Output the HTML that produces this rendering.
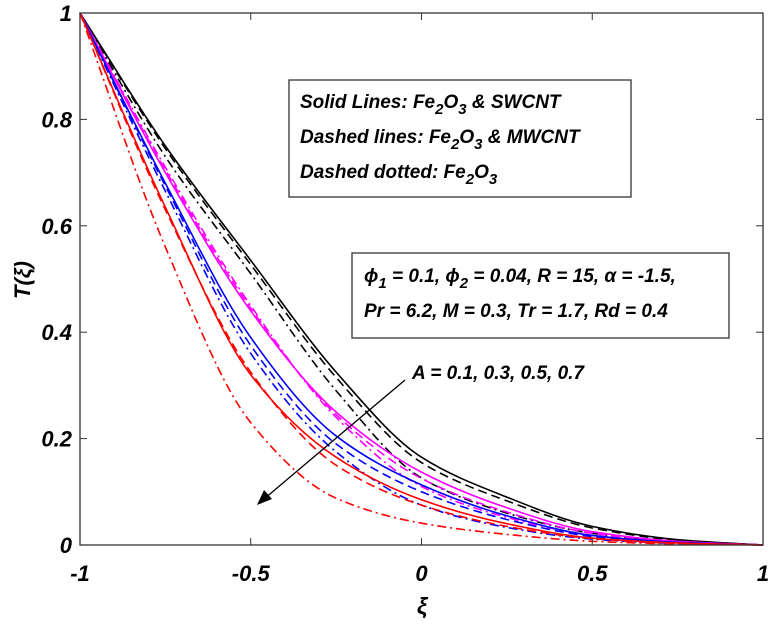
<!DOCTYPE html>
<html><head><meta charset="utf-8"><style>
body{margin:0;background:#fff;}
svg{display:block;font-family:"Liberation Sans",sans-serif;}
.t{font-weight:bold;font-style:italic;}
</style></head><body>
<svg id="chart" width="769" height="624" viewBox="0 0 769 624">
<rect x="80" y="13" width="683" height="532" fill="#fff"/>
<g id="series"></g>
<rect x="80" y="13" width="683" height="532" fill="none" stroke="#333" stroke-width="1.3"/>
<g id="ticks"></g>
<text class="t" transform="translate(30,280) rotate(-90)" text-anchor="middle" font-size="22">T(ξ)</text>
<text class="t" x="422" y="614" text-anchor="middle" font-size="23">ξ</text>
<g>
<rect x="289" y="80" width="342" height="117" fill="#fff" stroke="#333" stroke-width="1.3"/>
<text class="t" x="300" y="108" font-size="19">Solid Lines: Fe<tspan font-size="15" dy="6">2</tspan><tspan dy="-6">O</tspan><tspan font-size="15" dy="6">3</tspan><tspan dy="-6"> &amp; SWCNT</tspan></text>
<text class="t" x="300" y="143" font-size="19">Dashed lines: Fe<tspan font-size="15" dy="6">2</tspan><tspan dy="-6">O</tspan><tspan font-size="15" dy="6">3</tspan><tspan dy="-6"> &amp;  MWCNT</tspan></text>
<text class="t" x="300" y="178" font-size="19">Dashed dotted: Fe<tspan font-size="15" dy="6">2</tspan><tspan dy="-6">O</tspan><tspan font-size="15" dy="6">3</tspan></text>
</g>
<g>
<rect x="352" y="253" width="377" height="85" fill="#fff" stroke="#333" stroke-width="1.3"/>
<text class="t" x="364" y="282" font-size="19">ϕ<tspan font-size="15" dy="6">1</tspan><tspan dy="-6"> = 0.1, ϕ</tspan><tspan font-size="15" dy="6">2</tspan><tspan dy="-6"> = 0.04, R = 15, α = -1.5,</tspan></text>
<text class="t" x="364" y="317" font-size="19">Pr = 6.2, M = 0.3, Tr = 1.7, Rd = 0.4</text>
</g>
<text class="t" x="412" y="379" font-size="19">A = 0.1, 0.3, 0.5, 0.7</text>
<g>
<line x1="405" y1="380" x2="264" y2="499" stroke="#000" stroke-width="1.3"/>
<polygon points="257,505 264,490 272,499" fill="#000"/>
</g>
</svg>
<script>
const xVals=[-1,-0.75,-0.5,-0.25,0,0.25,0.5,0.75,1];
const blackSolid=[1,0.75,0.535,0.325,0.165,0.09,0.035,0.01,0];
const blackDashed=[1,0.745,0.527,0.315,0.155,0.083,0.032,0.009,0];
const blackDashDot=[1,0.73,0.51,0.29,0.126,0.06,0.022,0.006,0];
const magentaSolid=[1,0.70,0.44,0.25,0.137,0.07,0.025,0.007,0];
const magentaDashed=[1,0.705,0.445,0.245,0.125,0.062,0.022,0.006,0];
const magentaDashDot=[1,0.71,0.45,0.24,0.11,0.052,0.018,0.005,0];
const blueSolid=[1,0.68,0.39,0.205,0.113,0.055,0.018,0.005,0];
const blueDashed=[1,0.675,0.375,0.19,0.10,0.048,0.016,0.004,0];
const blueDashDot=[1,0.665,0.36,0.175,0.075,0.033,0.011,0.003,0];
const redSolid=[1,0.635,0.32,0.165,0.085,0.04,0.013,0.004,0];
const redDashed=[1,0.63,0.325,0.15,0.075,0.035,0.012,0.003,0];
const redDashDot=[1,0.56,0.23,0.088,0.041,0.02,0.007,0.002,0];
const xTicks=[-1,-0.5,0,0.5,1];
const xTickLabels=["-1","-0.5","0","0.5","1"];
const yTicks=[0,0.2,0.4,0.6,0.8,1];
const yTickLabels=["0","0.2","0.4","0.6","0.8","1"];
const NS="http://www.w3.org/2000/svg";
const X=v=>80+(v+1)/2*683;
const Y=v=>545-v*532;
const series=[
 ["black-solid",blackSolid,"#000",""],["black-dashed",blackDashed,"#000","9 5"],["black-dashdot",blackDashDot,"#000","9 4 2 4"],
 ["magenta-solid",magentaSolid,"#f0f","" ],["magenta-dashed",magentaDashed,"#f0f","9 5"],["magenta-dashdot",magentaDashDot,"#f0f","9 4 2 4"],
 ["blue-solid",blueSolid,"#00f",""],["blue-dashed",blueDashed,"#00f","9 5"],["blue-dashdot",blueDashDot,"#00f","9 4 2 4"],
 ["red-solid",redSolid,"#f00",""],["red-dashed",redDashed,"#f00","9 5"],["red-dashdot",redDashDot,"#f00","9 4 2 4"]];
function pathFor(vals){
 const p=xVals.map((x,i)=>[X(x),Y(vals[i])]);
 const n=p.length,d=[],m=[];
 for(let i=0;i<n-1;i++)d.push((p[i+1][1]-p[i][1])/(p[i+1][0]-p[i][0]));
 m[0]=d[0];m[n-1]=d[n-2];
 for(let i=1;i<n-1;i++){m[i]=(d[i-1]*d[i]<=0)?0:2/(1/d[i-1]+1/d[i]);}
 let s="M"+p[0][0]+","+p[0][1];
 for(let i=0;i<n-1;i++){
  const h=(p[i+1][0]-p[i][0])/3;
  s+=" C"+(p[i][0]+h)+","+(p[i][1]+m[i]*h)+" "+(p[i+1][0]-h)+","+(p[i+1][1]-m[i+1]*h)+" "+p[i+1][0]+","+p[i+1][1];
 }
 return s;
}
const g=document.getElementById("series");
series.forEach(s=>{
 const el=document.createElementNS(NS,"path");
 
 
 el.setAttribute("d",pathFor(s[1]));
 el.setAttribute("fill","none");el.setAttribute("stroke",s[2]);el.setAttribute("stroke-width","1.6");
 if(s[3])el.setAttribute("stroke-dasharray",s[3]);
 g.appendChild(el);
});
const tg=document.getElementById("ticks");
xTicks.forEach((v,i)=>{
 [[545,538],[13,20]].forEach(a=>{const l=document.createElementNS(NS,"line");
 
 
 l.setAttribute("x1",X(v));l.setAttribute("x2",X(v));l.setAttribute("y1",a[0]);l.setAttribute("y2",a[1]);l.setAttribute("stroke","#333");tg.appendChild(l);});
 const t=document.createElementNS(NS,"text");
 
 
 t.setAttribute("x",X(v));t.setAttribute("y",581);t.setAttribute("text-anchor","middle");t.setAttribute("font-size","22");t.setAttribute("class","t");
 t.textContent=xTickLabels[i];tg.appendChild(t);
});
yTicks.forEach((v,i)=>{
 [[80,87],[763,756]].forEach(a=>{const l=document.createElementNS(NS,"line");
 
 
 l.setAttribute("x1",a[0]);l.setAttribute("x2",a[1]);l.setAttribute("y1",Y(v));l.setAttribute("y2",Y(v));l.setAttribute("stroke","#333");tg.appendChild(l);});
 const t=document.createElementNS(NS,"text");
 
 
 t.setAttribute("x",72);t.setAttribute("y",Y(v)+8);t.setAttribute("text-anchor","end");t.setAttribute("font-size","22");t.setAttribute("class","t");
 t.textContent=yTickLabels[i];tg.appendChild(t);
});
</script>
</body></html>
